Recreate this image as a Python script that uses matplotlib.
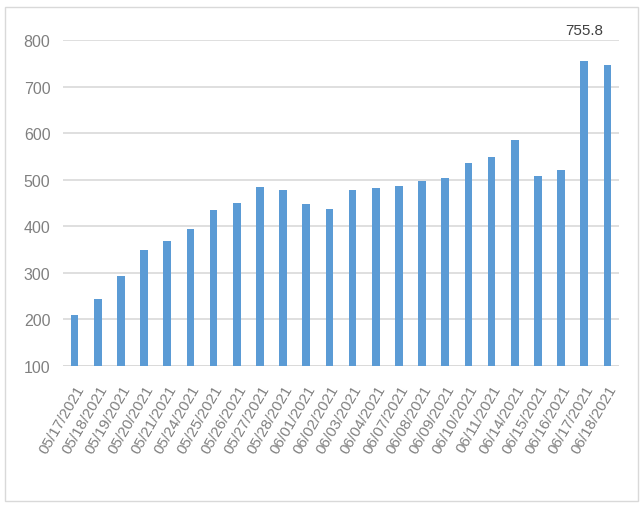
import matplotlib.pyplot as plt
from matplotlib.patches import Rectangle
from matplotlib import font_manager

dates = ["05/17/2021", "05/18/2021", "05/19/2021", "05/20/2021", "05/21/2021",
         "05/24/2021", "05/25/2021", "05/26/2021", "05/27/2021", "05/28/2021",
         "06/01/2021", "06/02/2021", "06/03/2021", "06/04/2021", "06/07/2021",
         "06/08/2021", "06/09/2021", "06/10/2021", "06/11/2021", "06/14/2021",
         "06/15/2021", "06/16/2021", "06/17/2021", "06/18/2021"]
values = [210, 244, 294, 350, 368, 395, 434, 450, 485, 478,
          448, 438, 478, 483, 487, 497, 503, 536, 548, 585,
          509, 521, 755.8, 747]
yticks = [100, 200, 300, 400, 500, 600, 700, 800]

names = {f.name for f in font_manager.fontManager.ttflist}
fam = "Liberation Sans Narrow" if "Liberation Sans Narrow" in names else "Liberation Sans"
plt.rcParams['font.family'] = [fam, 'DejaVu Sans']

fig = plt.figure(figsize=(6.43, 5.10), dpi=100)
ax = fig.add_axes([63 / 643, 143 / 510, 556 / 643, 326 / 510])

x = range(len(dates))
ax.bar(x, values, width=0.33, color='#5B9BD5', zorder=3)

ax.set_xlim(-0.5, len(dates) - 0.5)
ax.set_ylim(100, 800)
ax.set_yticks(yticks)
ax.yaxis.grid(True, color='#D9D9D9', linewidth=1.2, zorder=0)
ax.set_xticks(list(x))
ax.set_xticklabels(dates, rotation=60, ha='right', rotation_mode='anchor',
                   fontsize=11, color='#808080')
ax.tick_params(axis='y', labelsize=11.5, labelcolor='#808080', length=0, pad=9)
ax.tick_params(axis='x', length=0, pad=12)
for s in ax.spines.values():
    s.set_visible(False)
ax.axhline(100, color='#D9D9D9', linewidth=1.2, zorder=2)

i = values.index(max(values))
ax.annotate("755.8", xy=(i, 800), xytext=(0, 2), textcoords='offset points',
            ha='center', va='bottom', fontsize=11, color='#404040',
            annotation_clip=False)

fig.patches.append(Rectangle((5 / 643, 8 / 510), 633 / 643, 494 / 510,
                             transform=fig.transFigure, fill=False,
                             edgecolor='#D9D9D9', linewidth=1))

fig.savefig("out.png", dpi=100)
